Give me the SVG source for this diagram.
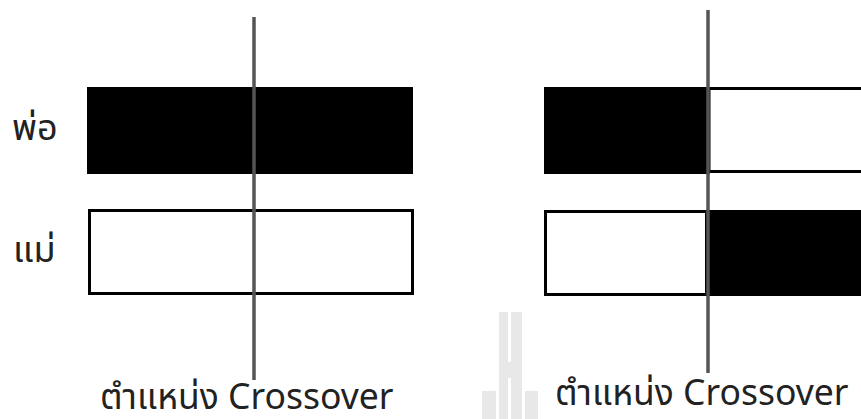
<svg xmlns="http://www.w3.org/2000/svg" width="861" height="419" viewBox="0 0 861 419">
<style>
.lbl{font-family:"Noto Sans","Noto Sans Thai","DejaVu Sans",sans-serif;font-size:36px;fill:#222}
.cap{font-family:"Noto Sans","Noto Sans Thai","DejaVu Sans",sans-serif;font-size:35.5px;fill:#222}
.blk{fill:#000;stroke:#000;stroke-width:2}
.wht{fill:#fff;stroke:#000;stroke-width:3}
.cut{stroke:#555;stroke-width:3.5;fill:none}
.wm{fill:#e8e8e8}
</style>
<rect width="861" height="419" fill="#fff"/>
<g id="watermark">
<rect class="wm" x="499" y="312" width="23" height="107"/>
<rect class="wm" x="482" y="391" width="14" height="28"/>
<rect class="wm" x="525" y="391" width="13" height="28"/>
<rect x="508" y="312" width="3" height="50" fill="#fff"/>
<rect x="508" y="378" width="3" height="41" fill="#fff"/>
</g>
<g id="left-father">
<rect class="blk" x="88" y="88" width="324" height="85"/>
</g>
<g id="left-mother">
<rect class="wht" x="89.5" y="210.5" width="323" height="83"/>
</g>
<g id="right-child1">
<rect class="blk" x="545" y="88" width="164" height="85"/>
<rect class="wht" x="709" y="88.5" width="160" height="83"/>
</g>
<g id="right-child2">
<rect class="wht" x="545.5" y="211.5" width="161" height="83"/>
<rect class="blk" x="706" y="211" width="160" height="84"/>
</g>
<g id="connectors">
<line class="cut" x1="254" y1="17" x2="254" y2="380"/>
<line class="cut" x1="708" y1="10" x2="708" y2="373"/>
</g>
<g id="labels">
<text class="lbl" x="12" y="140">พ่อ</text>
<text class="lbl" x="13" y="262">แม่</text>
<text class="cap" x="100" y="409">ตำแหน่ง Crossover</text>
<text class="cap" x="555" y="405">ตำแหน่ง Crossover</text>
</g>
</svg>
